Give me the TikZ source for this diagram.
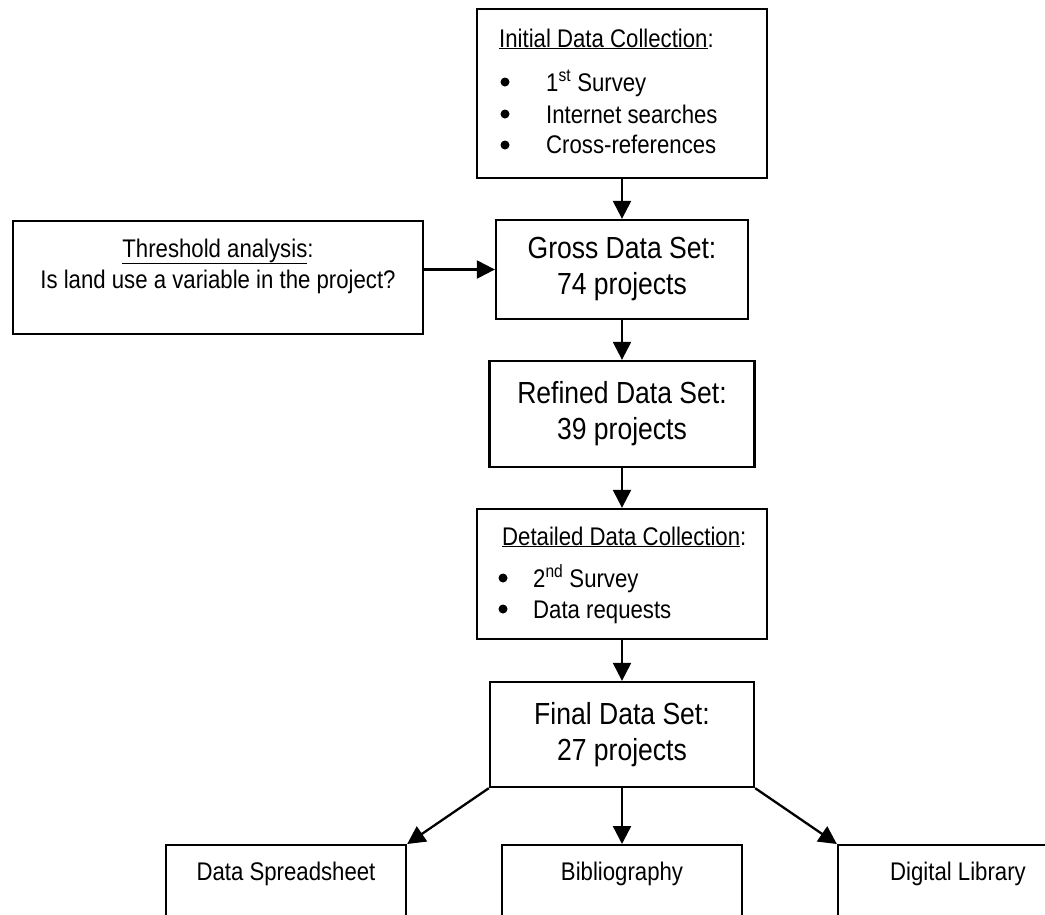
\documentclass[tikz,border=0pt]{standalone}
\usepackage{fontspec}
\setmainfont{Liberation Sans}[FakeStretch=0.87]
\usetikzlibrary{arrows.meta}
\begin{document}
\begin{tikzpicture}[x=1pt,y=-1pt,
  box/.style={draw, line width=2.3pt, inner sep=0pt},
  small/.style={font=\fontsize{25.5}{32}\selectfont, inner sep=0pt},
  big/.style={font=\fontsize{30.5}{36}\selectfont, align=center},
  dot/.style={circle, fill, inner sep=0pt, minimum size=9pt},
  conn/.style={line width=2.3pt, -{Triangle[length=18pt,width=18pt]}}]
\useasboundingbox (0,0) rectangle (1045,914);
\clip (0,0) rectangle (1045,914);
% Initial data collection
\node[box, minimum width=290pt, minimum height=169pt] (init) at (622,93.5) {};
\node[small, anchor=base west] (initT) at (499,47) {\underline{Initial Data Collection}:};
\node[dot] (ib1) at (505,82) {};
\node[dot] (ib2) at (505,114) {};
\node[dot] (ib3) at (505,145) {};
\node[small, anchor=base west] (ii1) at (546,91) {1\textsuperscript{st} Survey};
\node[small, anchor=base west] (ii2) at (546,123) {Internet searches};
\node[small, anchor=base west] (ii3) at (546,153) {Cross-references};
% Threshold
\node[box, minimum width=410pt, minimum height=113pt] (thr) at (218,277.5) {};
\node[small, anchor=base] (thrT) at (218,257) {\underline{Threshold analysis}:};
\node[small, anchor=base] (thrB) at (218,288) {Is land use a variable in the project?};
% Gross
\node[box, big, minimum width=252pt, minimum height=99pt] (gross) at (622,269.5) {Gross Data Set:\\74 projects};
% Refined
\node[box, big, minimum width=265pt, minimum height=106pt] (refined) at (622,414) {Refined Data Set:\\39 projects};
% Detailed
\node[box, minimum width=290pt, minimum height=130pt] (detail) at (622,574) {};
\node[small, anchor=base west] (detT) at (502,545) {\underline{Detailed Data Collection}:};
\node[dot] (db1) at (503,578) {};
\node[dot] (db2) at (503,609) {};
\node[small, anchor=base west] (di1) at (533,587) {2\textsuperscript{nd} Survey};
\node[small, anchor=base west] (di2) at (533,618) {Data requests};
% Final
\node[box, big, minimum width=264pt, minimum height=105pt] (final) at (622,734.5) {Final Data Set:\\27 projects};
% Outputs
\node[box, minimum width=240pt, minimum height=140pt, anchor=north] (ds) at (286,844) {};
\node[box, minimum width=240pt, minimum height=140pt, anchor=north] (bib) at (622,844) {};
\node[box, minimum width=240pt, minimum height=140pt, anchor=north] (dl) at (958,844) {};
\node[small, anchor=base] (dsT) at (286,880) {Data Spreadsheet};
\node[small, anchor=base] (bibT) at (622,880) {Bibliography};
\node[small, anchor=base] (dlT) at (958,880) {Digital Library};
% Connectors
\draw[conn] (init.south) -- (gross.north);
\draw[conn] (thr.east |- gross.west) -- (gross.west);
\draw[conn] (gross.south) -- (refined.north);
\draw[conn] (refined.south) -- (detail.north);
\draw[conn] (detail.south) -- (final.north);
\draw[conn] (final.south west) -- (ds.north east);
\draw[conn] (final.south) -- (bib.north);
\draw[conn] (final.south east) -- (dl.north west);
\end{tikzpicture}
\end{document}
